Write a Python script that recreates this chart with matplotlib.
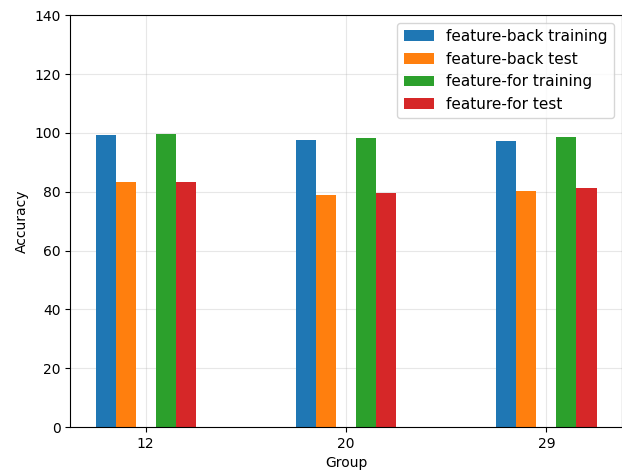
import matplotlib
matplotlib.use("Agg")
import matplotlib.pyplot as plt
import numpy as np

groups = ["12", "20", "29"]
back_train = [99.2, 97.7, 97.4]
back_test = [83.3, 79.0, 80.1]
for_train = [99.6, 98.3, 98.7]
for_test = [83.3, 79.4, 81.2]

x = np.arange(len(groups))
w = 0.1

fig = plt.figure(figsize=(6.22, 4.75), dpi=100)
ax = fig.add_axes([0.1133, 0.101, 0.886, 0.867])
ax.bar(x - 2 * w, back_train, w, label="feature-back training")
ax.bar(x - w, back_test, w, label="feature-back test")
ax.bar(x + w, for_train, w, label="feature-for training")
ax.bar(x + 2 * w, for_test, w, label="feature-for test")

ax.set_xticks(x)
ax.set_xticklabels(groups)
ax.set_xlim(-0.375, 2.375)
ax.set_ylim(0, 140)
ax.set_xlabel("Group")
ax.set_ylabel("Accuracy")
ax.grid(True, alpha=0.3)
ax.set_axisbelow(True)
ax.legend(loc="upper right", fontsize=11)

fig.savefig("out.png", dpi=100)
